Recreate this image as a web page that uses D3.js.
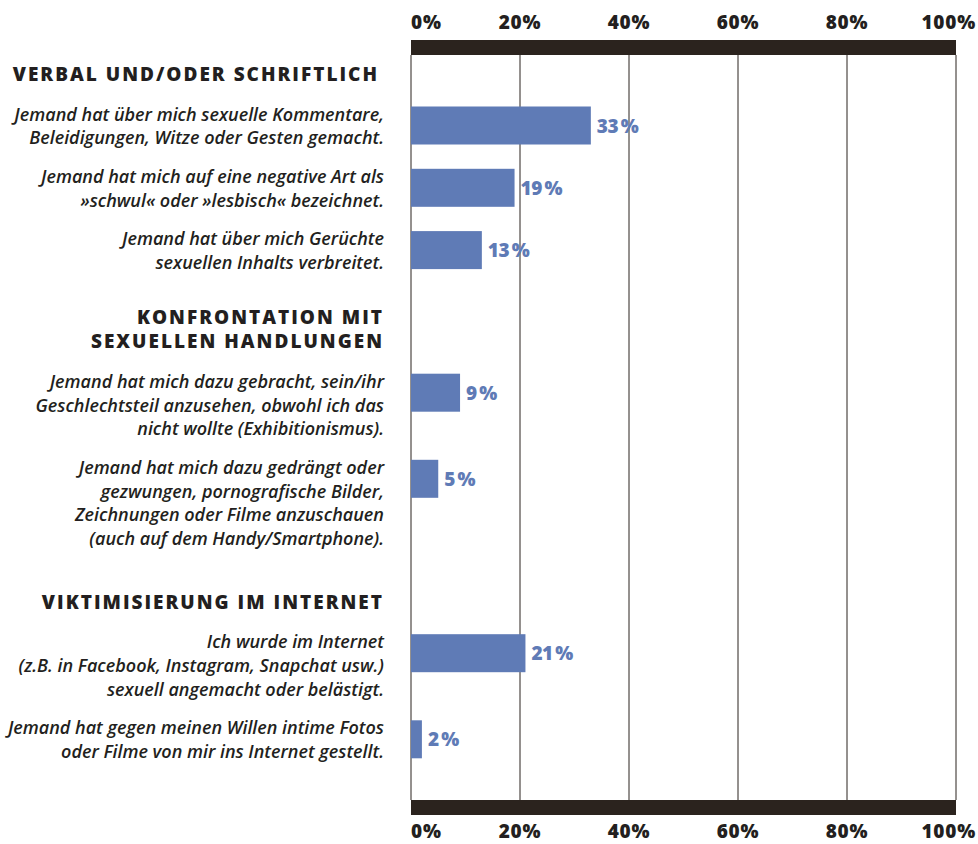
<!DOCTYPE html>
<html>
<head>
<meta charset="utf-8">
<script src="https://cdn.jsdelivr.net/npm/d3@7"></script>
<style>
  body { margin: 0; background: #fff; }
  svg { display: block; }
</style>
</head>
<body>
<div id="chart"></div>
<script>
// Data.
const sections = [
  ["VERBAL UND/ODER SCHRIFTLICH"],
  ["KONFRONTATION MIT", "SEXUELLEN HANDLUNGEN"],
  ["VIKTIMISIERUNG IM INTERNET"]
];
const itemSection = [0, 0, 0, 1, 1, 2, 2];
const itemLabels = [
  ["Jemand hat über mich sexuelle Kommentare,", "Beleidigungen, Witze oder Gesten gemacht."],
  ["Jemand hat mich auf eine negative Art als", "»schwul« oder »lesbisch« bezeichnet."],
  ["Jemand hat über mich Gerüchte", "sexuellen Inhalts verbreitet."],
  ["Jemand hat mich dazu gebracht, sein/ihr", "Geschlechtsteil anzusehen, obwohl ich das", "nicht wollte (Exhibitionismus)."],
  ["Jemand hat mich dazu gedrängt oder", "gezwungen, pornografische Bilder,", "Zeichnungen oder Filme anzuschauen", "(auch auf dem Handy/Smartphone)."],
  ["Ich wurde im Internet", "(z.B. in Facebook, Instagram, Snapchat usw.)", "sexuell angemacht oder belästigt."],
  ["Jemand hat gegen meinen Willen intime Fotos", "oder Filme von mir ins Internet gestellt."]
];
const values = [33, 19, 13, 9, 5, 21, 2];
const ticks = [0, 20, 40, 60, 80, 100];

const width = 978, height = 844;
const dark = "#2b231e", blue = "#5f7bb6", textCol = "#231f20";
const labelRight = 384;

const svg = d3.select("#chart").append("svg")
  .attr("width", width)
  .attr("height", height);

const x = d3.scaleLinear().domain([0, 100]).range([411, 956]);

// Layout of the left column: flow the text lines from top to bottom.
const lineH = 23.8;
const headerExtra = [0, 16, 24];
let cursor = 74;
const headerPos = [], itemPos = [];
let lastSection = -1;
itemLabels.forEach((lines, i) => {
  const s = itemSection[i];
  if (s !== lastSection) {
    if (lastSection >= 0) cursor += headerExtra[s];
    headerPos[s] = cursor;
    cursor += (sections[s].length - 1) * lineH + 40.5;
    lastSection = s;
  }
  itemPos[i] = cursor;
  cursor += (lines.length - 1) * lineH + 38.5;
});

// Plot frame: dark bands at top and bottom, grid lines between them.
const bandTop = 40, bandH = 15, bandBottom = 800;
svg.append("rect")
  .attr("x", x(0)).attr("y", bandTop)
  .attr("width", x(100) - x(0)).attr("height", bandH)
  .attr("fill", dark);
svg.append("rect")
  .attr("x", x(0)).attr("y", bandBottom)
  .attr("width", x(100) - x(0)).attr("height", bandH)
  .attr("fill", dark);
svg.selectAll(".grid")
  .data(ticks)
  .enter().append("line")
  .attr("class", "grid")
  .attr("x1", d => x(d)).attr("x2", d => x(d))
  .attr("y1", bandTop + bandH).attr("y2", bandBottom)
  .attr("stroke", dark)
  .attr("stroke-width", 1);

// Tick labels on top and bottom.
function tickLabels(y) {
  svg.append("g").selectAll("text")
    .data(ticks)
    .enter().append("text")
    .attr("x", d => d === 0 ? x(d) : d === 100 ? width - 2 : x(d))
    .attr("y", y)
    .attr("text-anchor", d => d === 0 ? "start" : d === 100 ? "end" : "middle")
    .attr("font-family", "'Open Sans', sans-serif")
    .attr("font-weight", 800)
    .attr("font-size", "19px")
    .attr("letter-spacing", "0.8px")
    .attr("fill", textCol)
    .text(d => d + "%");
}
tickLabels(29);
tickLabels(838);

// Section headers.
sections.forEach((lines, s) => {
  svg.append("text")
    .attr("text-anchor", "end")
    .attr("font-family", "'Open Sans', sans-serif")
    .attr("font-weight", 800)
    .attr("font-size", "19px")
    .attr("letter-spacing", "2px")
    .attr("fill", textCol)
    .selectAll("tspan")
    .data(lines)
    .enter().append("tspan")
    .attr("x", s === 0 ? labelRight - 5 : labelRight)
    .attr("y", (d, j) => headerPos[s] + j * lineH + 7)
    .text(d => d);
});

// Item labels.
const items = svg.selectAll(".item")
  .data(values)
  .enter().append("g")
  .attr("class", "item");

items.append("text")
  .attr("text-anchor", "end")
  .attr("font-family", "'Open Sans', sans-serif")
  .attr("font-style", "italic")
  .attr("font-weight", 600)
  .attr("font-size", "18px")
  .attr("fill", textCol)
  .each(function(d, i) {
    d3.select(this).selectAll("tspan")
      .data(itemLabels[i])
      .enter().append("tspan")
      .attr("x", labelRight)
      .attr("y", (t, j) => itemPos[i] + j * lineH + 6)
      .text(t => t);
  });

// Bars.
const barH = 38;
items.append("rect")
  .attr("x", x(0))
  .attr("y", (d, i) => itemPos[i] - 8)
  .attr("width", d => x(d) - x(0))
  .attr("height", barH)
  .attr("fill", blue);

// Value labels.
items.append("text")
  .attr("x", d => x(d) + 6)
  .attr("y", (d, i) => itemPos[i] - 8 + barH / 2 + 7)
  .attr("font-family", "'Open Sans', sans-serif")
  .attr("font-weight", 800)
  .attr("font-size", "19px")
  .attr("letter-spacing", "-0.5px")
  .attr("fill", blue)
  .text(d => d + "\u2009%");
</script>
</body>
</html>
